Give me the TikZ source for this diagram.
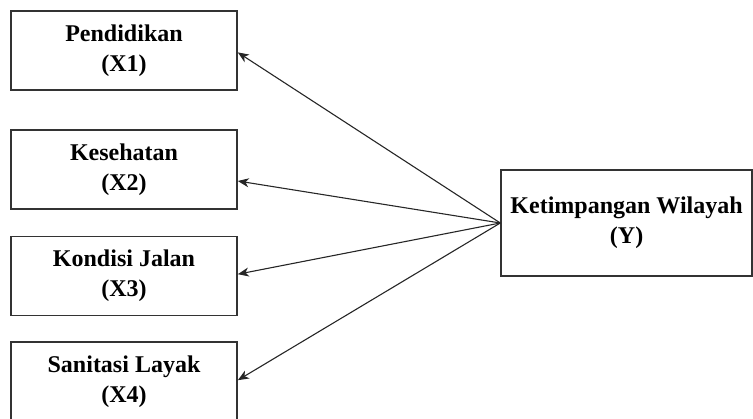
\documentclass[tikz,border=0pt]{standalone}
\usepackage{fontspec}
\setmainfont{Liberation Serif}
\usepackage{tikz}
\usetikzlibrary{calc,arrows.meta}

\begin{document}
\begin{tikzpicture}[x=1pt,y=1pt,
    varbox/.style={draw=black!80, line width=0.8pt, minimum width=113pt, minimum height=39.5pt,
                   align=center, inner sep=0pt, font=\fontsize{12}{15}\selectfont\bfseries},
    ybox/.style={varbox, minimum width=125.5pt, minimum height=53pt},
    link/.style={-{Stealth[length=5.5pt,width=4.5pt,inset=1.6pt]}, line width=0.55pt, black!85}]
              \useasboundingbox (0,0) rectangle (376.5,209);
              \node [varbox] (x1) at (62,183.6) {Pendidikan\\(X1)};
              \node [varbox] (x2) at (62,124.3) {Kesehatan\\(X2)};
              \node [varbox] (x3) at (62,71.1) {Kondisi Jalan\\(X3)};
              \node [varbox] (x4) at (62,18.3) {Sanitasi Layak\\(X4)};
              \node [ybox] (y) at (313.3,97.5) {Ketimpangan Wilayah\\(Y)};
              \draw [link] (y.west) -- ([yshift=-0.8pt]x1.east);
              \draw [link] (y.west) -- ([yshift=-5.8pt]x2.east);
              \draw [link] (y.west) -- ([yshift=0.8pt]x3.east);
              \draw [link] (y.west) -- ([yshift=0.6pt]x4.east);
\end{tikzpicture}
\end{document}
